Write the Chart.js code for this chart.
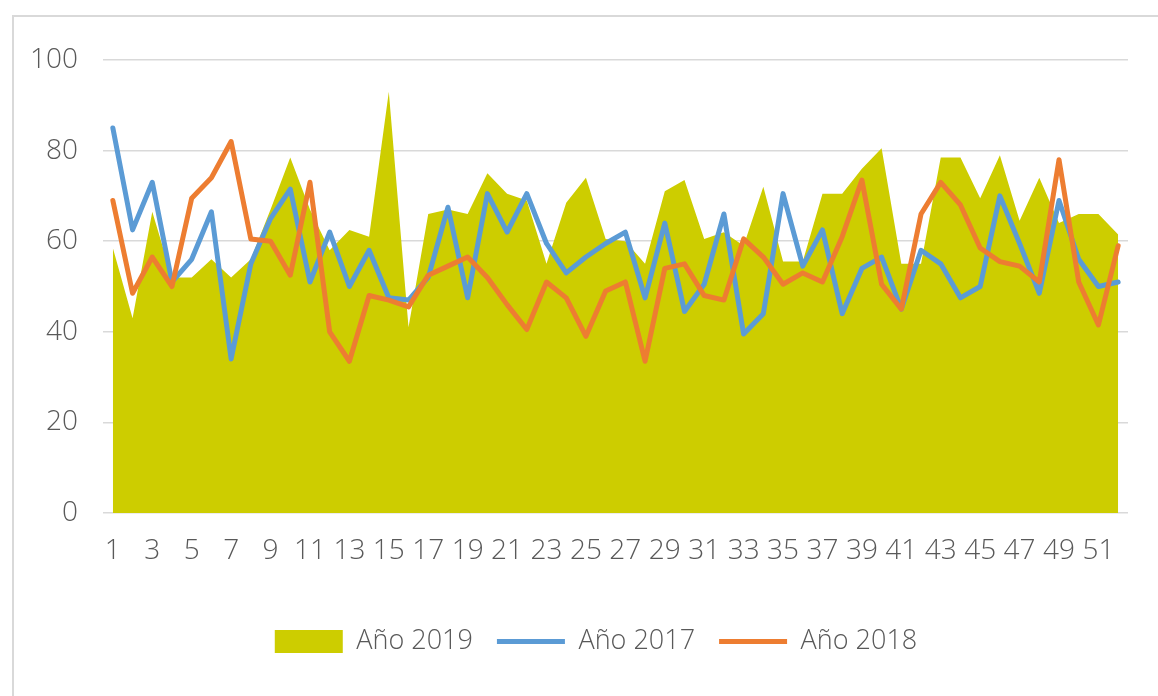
<!DOCTYPE html>
<html>
<head>
<meta charset="utf-8">
<script src="https://cdn.jsdelivr.net/npm/chart.js@4"></script>
<style>
    html, body { margin: 0; padding: 0; background: #fff; }
    #wrap { position: relative; width: 1158px; height: 696px; }
    #frame {
        position: absolute; left: 12px; top: 15px; right: -10px; bottom: -10px;
        border-top: 2px solid #d9d9d9; border-left: 2px solid #d9d9d9;
    }
    canvas { position: absolute; left: 0; top: 0; }
</style>
</head>
<body>
<div id="wrap">
    <div id="frame"></div>
    <canvas id="weeklyChart" width="1158" height="696"></canvas>
</div>
<script>
// weeks 1..52
const weeks = [];
for (let w = 1; w <= 52; w++) weeks.push(String(w));

const yTicks = [0, 20, 40, 60, 80, 100];

const anio2019 = [58.5, 43, 66.5, 52, 52, 56, 52, 56, 67, 78.5, 67, 58, 62.5, 61, 93, 41, 66, 67, 66, 75,
    70.5, 69, 55, 68.5, 74, 60.5, 60, 55, 71, 73.5, 60.5, 62, 59, 72, 55.5, 55.5, 70.5, 70.5, 76, 80.5,
    55, 55, 78.5, 78.5, 69.5, 79, 64.5, 74, 64, 66, 66, 61.5];

const anio2017 = [85, 62.5, 73, 51, 56, 66.5, 34, 55, 65, 71.5, 51, 62, 50, 58, 47.5, 47, 52, 67.5, 47.5, 70.5,
    62, 70.5, 59.5, 53, 56.5, 59.5, 62, 47.5, 64, 44.5, 50.5, 66, 39.5, 44, 70.5, 54.5, 62.5, 44, 54, 56.5,
    45, 58, 55, 47.5, 50, 70, 59.5, 48.5, 69, 56, 50, 51];

const anio2018 = [69, 48.5, 56.5, 50, 69.5, 74, 82, 60.5, 60, 52.5, 73, 40, 33.5, 48, 47, 45.5, 52.5, 54.5, 56.5, 52,
    46, 40.5, 51, 47.5, 39, 49, 51, 33.5, 54, 55, 48, 47, 60.5, 56.5, 50.5, 53, 51, 61, 73.5, 50.5,
    45, 66, 73, 68, 58.5, 55.5, 54.5, 51, 78, 51, 41.5, 59];

const textGray = '#595959';
const fontFamily = "'Open Sans', 'Liberation Sans', sans-serif";

// the legend in the original sits a bit right of centre
const legendShift = {
    id: 'legendShift',
    afterLayout(chart) {
        if (chart.legend) {
            chart.legend.left += 32;
            chart.legend.right += 32;
        }
    }
};

const ctx = document.getElementById('weeklyChart').getContext('2d');

new Chart(ctx, {
    type: 'line',
    data: {
        labels: weeks,
        datasets: [
            {
                label: 'Año 2019',
                data: anio2019,
                backgroundColor: '#cdcd00',
                borderColor: '#cdcd00',
                borderWidth: 0,
                fill: 'origin',
                pointRadius: 0,
                pointStyle: 'rect',
                order: 2
            },
            {
                label: 'Año 2017',
                data: anio2017,
                borderColor: '#5b9bd5',
                backgroundColor: '#5b9bd5',
                borderWidth: 5,
                borderCapStyle: 'round',
                borderJoinStyle: 'round',
                fill: false,
                pointRadius: 0,
                pointStyle: 'line',
                order: 1
            },
            {
                label: 'Año 2018',
                data: anio2018,
                borderColor: '#ed7d31',
                backgroundColor: '#ed7d31',
                borderWidth: 5,
                borderCapStyle: 'round',
                borderJoinStyle: 'round',
                fill: false,
                pointRadius: 0,
                pointStyle: 'line',
                order: 0
            }
        ]
    },
    plugins: [legendShift],
    options: {
        responsive: false,
        animation: false,
        layout: {
            padding: { left: 0, right: 30, top: 60, bottom: 31 }
        },
        plugins: {
            tooltip: { enabled: false },
            legend: {
                position: 'bottom',
                labels: {
                    usePointStyle: true,
                    pointStyleWidth: 68,
                    boxHeight: 23,
                    padding: 24,
                    color: textGray,
                    font: { family: fontFamily, size: 27, weight: '300' },
                    sort: (a, b) => a.datasetIndex - b.datasetIndex
                }
            }
        },
        scales: {
            x: {
                offset: true,
                grid: { display: false, drawTicks: false },
                border: { display: false },
                ticks: {
                    autoSkip: false,
                    maxRotation: 0,
                    padding: 21,
                    color: textGray,
                    font: { family: fontFamily, size: 28, weight: '300' },
                    callback: function(value, index) {
                        return index % 2 === 0 ? weeks[index] : '';
                    }
                },
                afterFit: function(scale) {
                    scale.height = 91;
                }
            },
            y: {
                min: 0,
                max: 100,
                afterBuildTicks: function(scale) {
                    scale.ticks = yTicks.map(v => ({ value: v }));
                },
                grid: { color: '#d9d9d9', lineWidth: 1.5, drawTicks: false },
                border: { display: false },
                ticks: {
                    padding: 25,
                    color: textGray,
                    font: { family: fontFamily, size: 28, weight: '300' }
                },
                afterFit: function(scale) {
                    scale.width = 103;
                }
            }
        }
    }
});
</script>
</body>
</html>
